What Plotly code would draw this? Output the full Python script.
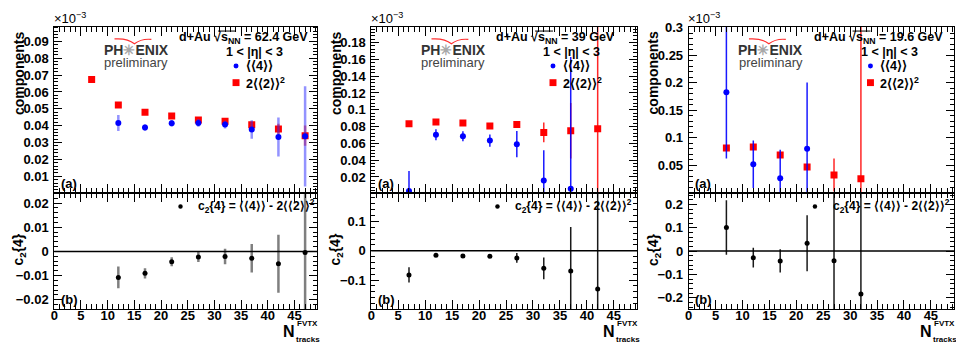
import plotly.graph_objects as go

# ---------------- data ----------------
# d+Au 62.4 GeV
n_four_62 = [12, 17, 22, 27, 32, 37, 42, 47]
four_62 = [0.0416, 0.0389, 0.0414, 0.0416, 0.0407, 0.0377, 0.0333, 0.0337]
four_62_err = [0.0047, 0.0019, 0.0019, 0.0023, 0.0023, 0.0055, 0.0115, 0.0297]
n_two_62 = [7, 12, 17, 22, 27, 32, 37, 42, 47]
two_62 = [0.0673, 0.0523, 0.0480, 0.0457, 0.0434, 0.0426, 0.0405, 0.0381, 0.0341]
two_62_err = [0.0005, 0.0005, 0.0005, 0.0005, 0.0006, 0.0008, 0.0015, 0.003, 0.006]
n_c24_62 = [12, 17, 22, 27, 32, 37, 42, 47]
c24_62 = [-0.0108, -0.0091, -0.0043, -0.0023, -0.0021, -0.0028, -0.0051, -0.0005]
c24_62_err = [0.0045, 0.0021, 0.0019, 0.0021, 0.0032, 0.0059, 0.012, 0.03]

# d+Au 39 GeV
n_four_39 = [7, 12, 17, 22, 27, 32, 37]
four_39 = [0.0032, 0.0703, 0.0684, 0.0633, 0.0590, 0.0157, 0.0059]
four_39_err = [0.024, 0.0066, 0.0059, 0.0072, 0.0156, 0.036, 0.157]
n_two_39 = [7, 12, 17, 22, 27, 32, 37, 42]
two_39 = [0.0835, 0.0855, 0.0843, 0.0808, 0.0824, 0.0731, 0.0750, 0.0773]
two_39_err = [0.0008, 0.0008, 0.0008, 0.001, 0.004, 0.0117, 0.033, 0.3]
n_c24_39 = [7, 12, 17, 22, 27, 32, 37, 42]
c24_39 = [-0.0823, -0.0157, -0.0179, -0.0190, -0.0246, -0.0600, -0.0690, -0.1300]
c24_39_err = [0.026, 0.003, 0.002, 0.003, 0.0167, 0.037, 0.15, 0.4]

# d+Au 19.6 GeV
n_four_19 = [7, 12, 17, 22]
four_19 = [0.1827, 0.0522, 0.0265, 0.0804]
four_19_err = [0.12, 0.043, 0.052, 0.12]
n_two_19 = [7, 12, 17, 22, 27, 32]
two_19 = [0.0816, 0.0834, 0.0690, 0.0469, 0.0325, 0.0259]
two_19_err = [0.002, 0.003, 0.005, 0.003, 0.03, 0.3]
n_c24_19 = [7, 12, 17, 22, 27, 32]
c24_19 = [0.1006, -0.0283, -0.0423, 0.0333, -0.0420, -0.1838]
c24_19_err = [0.117, 0.042, 0.05, 0.12, 0.5, 0.5]

energies = ["62.4", "39", "19.6"]

W, H = 956, 344
FONT = "Liberation Sans, Arial, sans-serif"

panels = [
    dict(four=(n_four_62, four_62, four_62_err), two=(n_two_62, two_62, two_62_err),
         c24=(n_c24_62, c24_62, c24_62_err),
         top_range=[0.0003, 0.0987], top_dtick=0.01, top_minor=0.002,
         bot_range=[-0.0239, 0.0243], bot_dtick=0.01, bot_minor=0.002,
         bar_w=2.5, blue_bar="rgba(40,40,255,0.5)", red_bar="rgba(255,0,0,0.55)",
         blk_bar="rgba(0,0,0,0.5)", left=50.5, right=314.7),
    dict(four=(n_four_39, four_39, four_39_err), two=(n_two_39, two_39, two_39_err),
         c24=(n_c24_39, c24_39, c24_39_err),
         top_range=[0.0013, 0.199], top_dtick=0.02, top_minor=0.004,
         bot_range=[-0.199, 0.198], bot_dtick=0.1, bot_minor=0.02,
         bar_w=1.5, blue_bar="rgba(0,0,255,0.9)", red_bar="rgba(255,0,0,0.85)",
         blk_bar="rgba(0,0,0,0.9)", left=368.8, right=635.7),
    dict(four=(n_four_19, four_19, four_19_err), two=(n_two_19, two_19, two_19_err),
         c24=(n_c24_19, c24_19, c24_19_err),
         top_range=[0.0005, 0.3018], top_dtick=0.05, top_minor=0.01,
         bot_range=[-0.249, 0.25], bot_dtick=0.1, bot_minor=0.02,
         bar_w=1.5, blue_bar="rgba(0,0,255,0.9)", red_bar="rgba(255,0,0,0.85)",
         blk_bar="rgba(0,0,0,0.9)", left=687.6, right=954.0),
]

TOP_Y0, MID_Y, BOT_Y1 = 21.0, 190.0, 308.5


def px(x):
    return x / W


def py(y):
    return 1 - y / H


fig = go.Figure()
annotations = []
shapes = []

tick_font = dict(family=FONT, size=13, color="black", weight="bold")

for i, p in enumerate(panels):
    xt, yt = 2 * i + 1, 2 * i + 2  # top axes index, bottom axes index
    xdom = [px(p["left"]), px(p["right"])]
    x_rng = [0, 49.3]

    def axname(k, letter):
        return f"{letter}axis" if k == 1 else f"{letter}axis{k}"

    def ref(k, letter):
        return letter if k == 1 else f"{letter}{k}"

    common_x = dict(domain=xdom, range=x_rng, dtick=5, tick0=0, ticks="inside", ticklen=9,
                    tickwidth=1, tickcolor="black", mirror="allticks", showline=True,
                    linecolor="black", linewidth=1, showgrid=False, zeroline=False,
                    minor=dict(dtick=1, ticks="inside", ticklen=5, tickcolor="black",
                               showgrid=False),
                    tickfont=tick_font)
    fig.update_layout({
        axname(xt, "x"): dict(common_x, anchor=ref(xt, "y"), showticklabels=False),
        axname(yt, "x"): dict(common_x, anchor=ref(yt, "y"), showticklabels=True,
                              ticklabelstandoff=-6),
        axname(xt, "y"): dict(domain=[py(MID_Y), py(TOP_Y0)], range=p["top_range"],
                              dtick=p["top_dtick"], tick0=0, ticks="inside", ticklen=8,
                              tickcolor="black", mirror="allticks", showline=True,
                              linecolor="black", linewidth=1, showgrid=False,
                              zeroline=False, anchor=ref(xt, "x"),
                              minor=dict(dtick=p["top_minor"], ticks="inside", ticklen=4,
                                         tickcolor="black", showgrid=False),
                              tickfont=tick_font, ticklabelstandoff=2),
        axname(yt, "y"): dict(domain=[py(BOT_Y1), py(MID_Y)], range=p["bot_range"],
                              dtick=p["bot_dtick"], tick0=0, ticks="inside", ticklen=8,
                              tickcolor="black", mirror="allticks", showline=True,
                              linecolor="black", linewidth=1, showgrid=False,
                              zeroline=False, anchor=ref(yt, "x"),
                              minor=dict(dtick=p["bot_minor"], ticks="inside", ticklen=4,
                                         tickcolor="black", showgrid=False),
                              tickfont=tick_font, ticklabelstandoff=2),
    })

    # zero line in the lower pad
    shapes.append(dict(type="line", xref=f"{ref(yt, 'x')} domain", x0=0, x1=1,
                       yref=ref(yt, "y"), y0=0, y1=0,
                       line=dict(color="black", width=1.5), layer="below"))

    nx, ny, ne = p["two"]
    fig.add_trace(go.Scatter(x=nx, y=ny, mode="markers", xaxis=ref(xt, "x"), yaxis=ref(xt, "y"),
                             marker=dict(symbol="square", size=7, color="#ff0000"),
                             error_y=dict(type="data", array=ne, color=p["red_bar"],
                                          thickness=p["bar_w"], width=0),
                             showlegend=False))
    nx, ny, ne = p["four"]
    fig.add_trace(go.Scatter(x=nx, y=ny, mode="markers", xaxis=ref(xt, "x"), yaxis=ref(xt, "y"),
                             marker=dict(symbol="circle", size=6, color="#0000ff"),
                             error_y=dict(type="data", array=ne, color=p["blue_bar"],
                                          thickness=p["bar_w"], width=0),
                             showlegend=False))
    nx, ny, ne = p["c24"]
    fig.add_trace(go.Scatter(x=nx, y=ny, mode="markers", xaxis=ref(yt, "x"), yaxis=ref(yt, "y"),
                             marker=dict(symbol="circle", size=5, color="black"),
                             error_y=dict(type="data", array=ne, color=p["blk_bar"],
                                          thickness=p["bar_w"], width=0),
                             showlegend=False))

    dx = p["left"] - 50.5

    def txt(x, y, s, size=13, weight="bold", color="black", xanchor="left", yanchor="middle",
            angle=0):
        annotations.append(dict(x=px(x), y=py(y), xref="paper", yref="paper", text=s,
                                showarrow=False, xanchor=xanchor, yanchor=yanchor,
                                textangle=angle, borderpad=0,
                                font=dict(family=FONT, size=size, color=color, weight=weight)))

    # multiplier of the upper y axis
    txt(49 + dx, 12, "×10<sup>−3</sup>", size=13, weight="normal")
    # collision system / acceptance
    txt(175 + dx, 33, f"d+Au √s<sub>NN</sub> = {energies[i]} GeV", size=12.5)
    shapes.append(dict(type="line", xref="paper", yref="paper",
                       x0=px(215 + dx), x1=px(233 + dx), y0=py(25.5), y1=py(25.5),
                       line=dict(color="black", width=1)))
    txt(222 + dx, 47, "1 < |η| < 3", size=12.5)
    # legend of the upper pad
    shapes.append(dict(type="circle", xref="paper", yref="paper",
                       x0=px(230.5 + dx), x1=px(235.5 + dx), y0=py(58.5), y1=py(63.5),
                       fillcolor="#0000ff", line=dict(width=0)))
    txt(242 + dx, 61, "⟨⟨4⟩⟩", size=12.5)
    shapes.append(dict(type="rect", xref="paper", yref="paper",
                       x0=px(229.5 + dx), x1=px(236.5 + dx), y0=py(74.5), y1=py(81.5),
                       fillcolor="#ff0000", line=dict(width=0)))
    txt(242 + dx, 78, "2⟨⟨2⟩⟩<sup>2</sup>", size=12.5)
    # PHENIX preliminary mark
    txt(133 + dx, 45, "PH<span style='color:#a8a8a8'>✳</span>ENIX", size=14,
        color="#333333", xanchor="center")
    txt(133 + dx, 58, "preliminary", size=13, weight="normal", color="#444444",
        xanchor="center")
    shapes.append(dict(type="path", xref="paper", yref="paper",
                       path=(f"M {px(111 + dx)},{py(33.5)} Q {px(124 + dx)},{py(32.5)} "
                             f"{px(131 + dx)},{py(38.5)} Q {px(138 + dx)},{py(33)} "
                             f"{px(148 + dx)},{py(34)}"),
                       line=dict(color="#ff3030", width=1.2)))
    # pad labels
    txt(56 + dx, 181, "(a)")
    txt(56 + dx, 299, "(b)")
    # legend of the lower pad
    shapes.append(dict(type="circle", xref="paper", yref="paper",
                       x0=px(175 + dx), x1=px(179.5 + dx), y0=py(201.8), y1=py(206.3),
                       fillcolor="black", line=dict(width=0)))
    txt(194 + dx, 204, "c<sub>2</sub>{4} = ⟨⟨4⟩⟩ - 2⟨⟨2⟩⟩<sup>2</sup>", size=12)
    # axis titles
    txt(15 + dx, 25, "components", size=14, xanchor="center", yanchor="top", angle=-90)
    txt(15 + dx, 248, "c<sub>2</sub>{4}", size=14, xanchor="center", angle=-90)
    txt(p["right"] - 21.5, 331, "N", size=16, xanchor="right")
    txt(p["right"] - 21.5, 323, "FVTX", size=8, xanchor="left")
    txt(p["right"] - 22, 339.5, "tracks", size=8, xanchor="left")

fig.update_layout(
    width=W, height=H, margin=dict(l=0, r=0, t=0, b=0),
    paper_bgcolor="white", plot_bgcolor="white",
    annotations=annotations, shapes=shapes, showlegend=False,
    font=dict(family=FONT, color="black"),
)

fig.write_html("out.html")
